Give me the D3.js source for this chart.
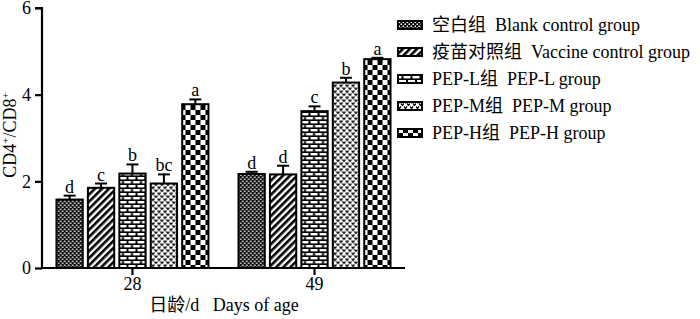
<!DOCTYPE html>
<html>
<head>
<meta charset="utf-8">
<script src="https://cdn.jsdelivr.net/npm/d3@7"></script>
<style>
  body { margin: 0; background: #fff; }
  text { font-family: "Liberation Serif", "Noto Sans CJK SC", serif; fill: #000; }
</style>
</head>
<body>
<div id="chart"></div>
<script>
// data
const days = ["28", "49"];
const groups = ["空白组  Blank control group", "疫苗对照组  Vaccine control group", "PEP-L组  PEP-L group", "PEP-M组  PEP-M group", "PEP-H组  PEP-H group"];
const means = [
  [1.58, 1.85, 2.18, 1.95, 3.78],
  [2.17, 2.16, 3.62, 4.28, 4.82]
];
const errs = [
  [0.09, 0.10, 0.21, 0.21, 0.11],
  [0.05, 0.20, 0.11, 0.11, 0.03]
];
const letters = [
  ["d", "c", "b", "bc", "a"],
  ["d", "d", "c", "b", "a"]
];
const yTicks = [0, 2, 4, 6];

const width = 700, height = 319;
const fs = 18;
const svg = d3.select('#chart').append('svg')
  .attr('width', width).attr('height', height);

// fill patterns
const defs = svg.append('defs');
const pats = [];

// 1 fine dotted mesh
let p = defs.append('pattern').attr('id', 'p0').attr('patternUnits', 'userSpaceOnUse')
  .attr('width', 4).attr('height', 4);
p.append('rect').attr('width', 4).attr('height', 4).attr('fill', '#000');
p.append('rect').attr('x', 0.5).attr('y', 0.5).attr('width', 1.6).attr('height', 1.6).attr('fill', '#fff');
p.append('rect').attr('x', 2.5).attr('y', 2.5).attr('width', 1.6).attr('height', 1.6).attr('fill', '#fff');
pats.push('url(#p0)');

// 2 diagonal stripes
p = defs.append('pattern').attr('id', 'p1').attr('patternUnits', 'userSpaceOnUse')
  .attr('width', 5).attr('height', 5).attr('patternTransform', 'rotate(45)');
p.append('rect').attr('width', 5).attr('height', 5).attr('fill', '#fff');
p.append('rect').attr('x', 0).attr('width', 2.6).attr('height', 5).attr('fill', '#000');
pats.push('url(#p1)');

// 3 bricks
p = defs.append('pattern').attr('id', 'p2').attr('patternUnits', 'userSpaceOnUse')
  .attr('width', 9).attr('height', 8);
p.append('rect').attr('width', 9).attr('height', 8).attr('fill', '#000');
p.append('rect').attr('x', 1).attr('y', 1).attr('width', 7).attr('height', 2.4).attr('fill', '#fff');
p.append('rect').attr('x', -3.5).attr('y', 5).attr('width', 7).attr('height', 2.4).attr('fill', '#fff');
p.append('rect').attr('x', 5.5).attr('y', 5).attr('width', 7).attr('height', 2.4).attr('fill', '#fff');
pats.push('url(#p2)');

// 4 small hearts on white
p = defs.append('pattern').attr('id', 'p3').attr('patternUnits', 'userSpaceOnUse')
  .attr('width', 6).attr('height', 6);
p.append('rect').attr('width', 6).attr('height', 6).attr('fill', '#fff');
p.append('path').attr('d', 'M0,0.4 L1.5,2.6 L3,0.4').attr('fill', 'none').attr('stroke', '#000').attr('stroke-width', 1.3);
p.append('path').attr('d', 'M3,3.4 L4.5,5.6 L6,3.4').attr('fill', 'none').attr('stroke', '#000').attr('stroke-width', 1.3);
pats.push('url(#p3)');

// 5 checkerboard
p = defs.append('pattern').attr('id', 'p4').attr('patternUnits', 'userSpaceOnUse')
  .attr('width', 10).attr('height', 10);
p.append('rect').attr('width', 10).attr('height', 10).attr('fill', '#fff');
p.append('rect').attr('width', 5).attr('height', 5).attr('fill', '#000');
p.append('rect').attr('x', 5).attr('y', 5).attr('width', 5).attr('height', 5).attr('fill', '#000');
pats.push('url(#p4)');

// scales
const x0 = d3.scaleBand().domain(days).range([42, 405]).paddingInner(0.154).paddingOuter(0.074);
const x1 = d3.scaleBand().domain(d3.range(groups.length)).range([0, x0.bandwidth()]).paddingInner(0.1);
const y = d3.scaleLinear().domain([0, 6]).range([268, 8]);

// bars
days.forEach((day, i) => {
  const g = svg.append('g').attr('transform', `translate(${x0(day)},0)`);
  const rows = means[i].map((m, j) => ({ j, m, e: errs[i][j], l: letters[i][j] }));

  // error bars
  g.selectAll('line.err').data(rows).enter().append('line')
    .attr('x1', d => x1(d.j) + x1.bandwidth() / 2).attr('x2', d => x1(d.j) + x1.bandwidth() / 2)
    .attr('y1', d => y(d.m)).attr('y2', d => y(d.m + d.e))
    .attr('stroke', '#000').attr('stroke-width', 2);
  g.selectAll('line.cap').data(rows).enter().append('line')
    .attr('x1', d => x1(d.j) + x1.bandwidth() / 2 - 6).attr('x2', d => x1(d.j) + x1.bandwidth() / 2 + 6)
    .attr('y1', d => y(d.m + d.e)).attr('y2', d => y(d.m + d.e))
    .attr('stroke', '#000').attr('stroke-width', 2);

  g.selectAll('rect').data(rows).enter().append('rect')
    .attr('x', d => x1(d.j) + 1).attr('width', x1.bandwidth() - 2)
    .attr('y', d => y(d.m)).attr('height', d => y(0) - y(d.m))
    .attr('fill', d => pats[d.j]).attr('stroke', '#000').attr('stroke-width', 2);

  g.selectAll('text').data(rows).enter().append('text')
    .attr('x', d => x1(d.j) + x1.bandwidth() / 2)
    .attr('y', d => y(d.m + d.e) - 3)
    .attr('text-anchor', 'middle').attr('font-size', fs)
    .text(d => d.l);
});

// axes
const yAxis = svg.append('g').attr('transform', 'translate(42,0)')
  .call(d3.axisLeft(y).tickValues(yTicks).tickFormat(d3.format('d')).tickSize(7).tickPadding(4));
const xAxis = svg.append('g').attr('transform', 'translate(0,268)')
  .call(d3.axisBottom(x0).tickSize(7).tickPadding(2));
[yAxis, xAxis].forEach(a => {
  a.select('.domain').attr('stroke', '#000').attr('stroke-width', 2.2);
  a.selectAll('.tick line').attr('stroke', '#000').attr('stroke-width', 2.2);
  a.selectAll('.tick text').attr('font-size', fs);
});
yAxis.select('.domain').attr('d', 'M-7,8H0V268');
xAxis.select('.domain').attr('d', 'M42,0H405');

// axis titles
const yt = svg.append('text').attr('transform', 'translate(16,135) rotate(-90)')
  .attr('text-anchor', 'middle').attr('font-size', fs);
yt.append('tspan').text('CD4');
yt.append('tspan').attr('font-size', 11).attr('dy', -7).text('+');
yt.append('tspan').attr('dy', 7).text('/CD8');
yt.append('tspan').attr('font-size', 11).attr('dy', -7).text('+');

svg.append('text').attr('x', 224).attr('y', 311).attr('text-anchor', 'middle')
  .attr('font-size', fs).attr('xml:space', 'preserve').text('日龄/d   Days of age');

// legend
const leg = svg.append('g').attr('transform', 'translate(398,25)');
const items = leg.selectAll('g').data(groups).enter().append('g')
  .attr('transform', (d, i) => `translate(0,${i * 27})`);
items.append('rect').attr('x', 0).attr('y', -4).attr('width', 24).attr('height', 8)
  .attr('fill', (d, i) => pats[i]).attr('stroke', '#000').attr('stroke-width', 2);
items.append('text').attr('x', 34).attr('y', 6).attr('font-size', fs)
  .attr('xml:space', 'preserve').text(d => d);
</script>
</body>
</html>
